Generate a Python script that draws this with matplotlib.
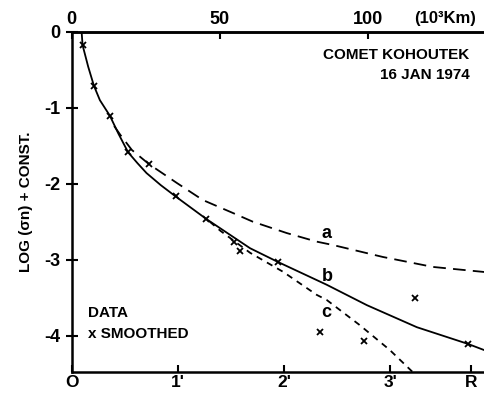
import matplotlib
matplotlib.use("Agg")
import matplotlib.pyplot as plt

plt.rcParams['font.family'] = ['Liberation Sans', 'DejaVu Sans']
plt.rcParams['font.weight'] = 'bold'

# smoothed data points (x in arc-min, y = log(sigma n) + const)
data_x = [0.103, 0.210, 0.360, 0.532, 0.727, 0.981, 1.263, 1.527, 1.583,
          1.941, 2.336, 2.753, 3.230, 3.731]
data_y = [-0.175, -0.711, -1.105, -1.587, -1.741, -2.168, -2.464, -2.767,
          -2.886, -3.030, -3.947, -4.066, -3.508, -4.109]

# curve b (solid)
b_x = [0.094, 0.103, 0.156, 0.210, 0.266, 0.360, 0.44, 0.532, 0.62, 0.705, 0.84,
       0.981, 1.263, 1.68, 1.941, 2.40, 2.78, 3.25, 3.731, 3.90]
b_y = [0.0, -0.175, -0.46, -0.711, -0.90, -1.105, -1.34, -1.587, -1.73, -1.86,
       -2.02, -2.17, -2.46, -2.85, -3.03, -3.33, -3.60, -3.89, -4.11, -4.20]

# curve a (long dash)
a_x = [0.40, 0.46, 0.567, 0.727, 0.99, 1.235, 1.517, 1.705, 2.025, 2.307,
       2.458, 2.93, 3.40, 3.90]
a_y = [-1.24, -1.36, -1.556, -1.741, -1.99, -2.215, -2.385, -2.50, -2.65,
       -2.763, -2.807, -2.965, -3.096, -3.165]

# curve c (short dash)
c_x = [1.30, 1.40, 1.68, 1.99, 2.307, 2.40, 2.71, 2.995, 3.21]
c_y = [-2.50, -2.62, -2.91, -3.16, -3.464, -3.53, -3.86, -4.19, -4.48]

bottom_ticks = [0, 1, 2, 3, 3.76]
bottom_labels = ["O", "1'", "2'", "3'", "R"]
y_ticks = [0, -1, -2, -3, -4]
y_labels = ["0", "-1", "-2", "-3", "-4"]
top_ticks = [0, 50, 100]
km_per_arcmin = 35.9

fig = plt.figure(figsize=(4.84, 3.93), dpi=100)
ax = fig.add_axes([0.148, 0.0534, 0.856, 0.8656])

ax.plot(b_x, b_y, color="black", lw=1.3)
ax.plot(a_x, a_y, color="black", lw=1.3, dashes=(7, 4))
ax.plot(c_x, c_y, color="black", lw=1.3, dashes=(3.5, 3))
ax.plot(data_x, data_y, ls="none", marker="x", color="black", ms=4.5, mew=1.3)

ax.set_xlim(0, 3.9)
ax.set_ylim(-4.48, 0)
ax.set_xticks(bottom_ticks)
ax.set_xticklabels(bottom_labels, fontsize=12.5, fontweight='bold')
ax.set_yticks(y_ticks)
ax.set_yticklabels(y_labels, fontsize=13, fontweight='bold')
ax.tick_params(axis='x', direction='in', length=5, width=1.5, pad=2)
ax.tick_params(axis='y', direction='inout', length=8, width=1.5, pad=4)
for side in ['left', 'bottom', 'top']:
    ax.spines[side].set_linewidth(1.8)
ax.spines['right'].set_visible(False)

top = ax.secondary_xaxis('top', functions=(lambda x: x * km_per_arcmin,
                                           lambda x: x / km_per_arcmin))
top.set_xticks(top_ticks)
top.set_xticklabels([str(t) for t in top_ticks], fontsize=13, fontweight='bold')
top.tick_params(direction='in', length=5, width=1.5, pad=3)
top.spines['top'].set_linewidth(1.8)

fig.text(445 / 484, 1 - 19 / 393, "(10³Km)", fontsize=12, fontweight='bold',
         ha='center', va='center')

ax.set_ylabel("LOG (σn) + CONST.", fontsize=11, fontweight='bold', labelpad=8)

ax.text(3.747, -0.307, "COMET KOHOUTEK", fontsize=11, fontweight='bold',
        ha='right', va='center')
ax.text(3.747, -0.57, "16 JAN 1974", fontsize=11, fontweight='bold',
        ha='right', va='center')
ax.text(0.155, -3.70, "DATA", fontsize=11, fontweight='bold', ha='left', va='center')
ax.text(0.155, -3.98, "x SMOOTHED", fontsize=11, fontweight='bold', ha='left', va='center')

ax.text(2.40, -2.66, "a", fontsize=13, fontweight='bold', ha='center', va='center')
ax.text(2.41, -3.22, "b", fontsize=13, fontweight='bold', ha='center', va='center')
ax.text(2.40, -3.70, "c", fontsize=13, fontweight='bold', ha='center', va='center')

fig.savefig("out.png", dpi=100)
